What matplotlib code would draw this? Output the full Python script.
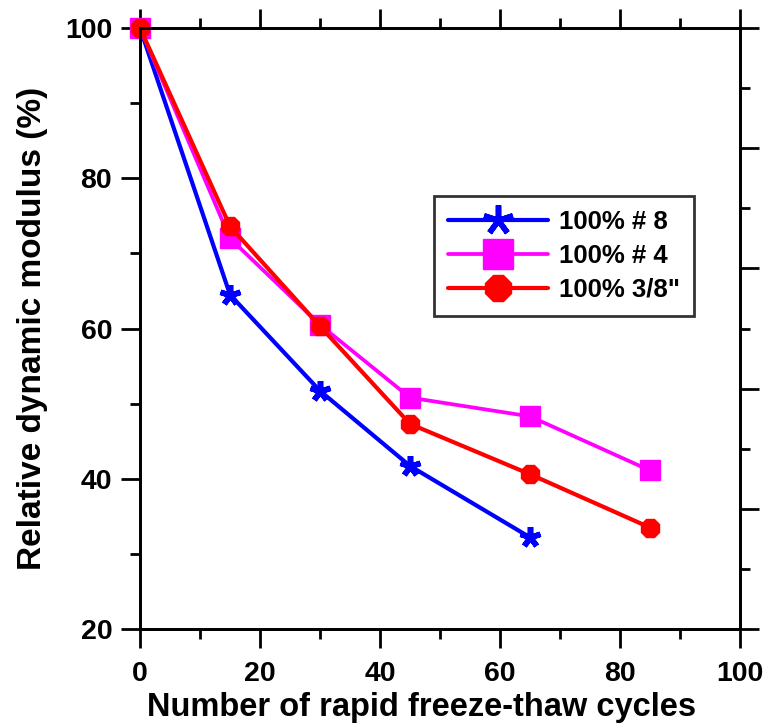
import matplotlib
matplotlib.use("Agg")
import matplotlib.pyplot as plt
from matplotlib.ticker import MultipleLocator, FixedLocator, NullFormatter

plt.rcParams['font.family'] = ['Liberation Sans', 'DejaVu Sans']
plt.rcParams['font.weight'] = 'bold'

# Freeze-thaw cycles and relative dynamic modulus (%)
cycles_8 = [0, 15, 30, 45, 65]
modulus_8 = [100, 64.5, 51.7, 41.7, 32.2]

cycles_4 = [0, 15, 30, 45, 65, 85]
modulus_4 = [100, 72.0, 60.5, 50.8, 48.3, 41.1]

cycles_38 = [0, 15, 30, 45, 65, 85]
modulus_38 = [100, 73.6, 60.3, 47.3, 40.6, 33.5]

labels = ['100% # 8', '100% # 4', '100% 3/8"']

fig = plt.figure(figsize=(7.71, 7.28), dpi=100)
ax = fig.add_axes([140 / 771, 99 / 728, 600 / 771, 601 / 728])

ax.plot(cycles_8, modulus_8, color='#0000FF', lw=3, marker=(5, 2, 0),
        ms=15, mew=4, mec='#0000FF', label=labels[0], clip_on=False, zorder=3,
        solid_capstyle='round')
ax.plot(cycles_4, modulus_4, color='#FF00FF', lw=2.7, marker='s',
        ms=15, mec='#FF00FF', mfc='#FF00FF', label=labels[1], clip_on=False, zorder=3,
        solid_capstyle='round')
ax.plot(cycles_38, modulus_38, color='#FF0000', lw=3, marker='8',
        ms=14, mec='#FF0000', mfc='#FF0000', label=labels[2], clip_on=False, zorder=4,
        solid_capstyle='round')

ax.set_xlim(0, 100)
ax.set_ylim(20, 100)
ax.xaxis.set_major_locator(MultipleLocator(20))
ax.xaxis.set_minor_locator(MultipleLocator(10))
ax.yaxis.set_major_locator(MultipleLocator(20))
ax.yaxis.set_minor_locator(MultipleLocator(10))

for sp in ax.spines.values():
    sp.set_linewidth(2)

ax.tick_params(which='major', direction='out', length=14, width=2,
               labelsize=20.5, top=True, right=False)
ax.tick_params(which='minor', direction='out', length=7, width=2,
               top=True, right=False)
ax.tick_params(axis='x', which='major', pad=9)
ax.tick_params(axis='y', which='major', pad=6)
for lab in ax.get_xticklabels() + ax.get_yticklabels():
    lab.set_fontweight('bold')

# Right-hand scale: unlabeled ticks dividing the height into tenths
axr = ax.twinx()
axr.set_ylim(0, 100)
axr.yaxis.set_major_locator(FixedLocator([0, 20, 40, 60, 80, 100]))
axr.yaxis.set_minor_locator(FixedLocator([10, 30, 50, 70, 90]))
axr.yaxis.set_major_formatter(NullFormatter())
axr.tick_params(which='major', direction='out', length=14, width=2)
axr.tick_params(which='minor', direction='out', length=7, width=2)
for sp in axr.spines.values():
    sp.set_linewidth(2)

ax.set_xlabel('Number of rapid freeze-thaw cycles', fontsize=23.5,
              fontweight='bold', labelpad=0)
ax.xaxis.set_label_coords(0.47, -0.104, transform=ax.transAxes)
ax.xaxis.label.set_va('top')
ax.set_ylabel('Relative dynamic modulus (%)', fontsize=24,
              fontweight='bold', labelpad=12)

leg = ax.legend(loc='upper left', bbox_to_anchor=(0.49, 0.72),
                prop={'size': 18.5, 'weight': 'bold'}, handlelength=3.9,
                markerscale=1.45, frameon=True, fancybox=False,
                edgecolor='black', borderpad=0.55, labelspacing=0.38,
                handletextpad=0.4, borderaxespad=0)
leg.get_frame().set_linewidth(2)
leg.set_zorder(10)

fig.savefig('out.png', dpi=100)
